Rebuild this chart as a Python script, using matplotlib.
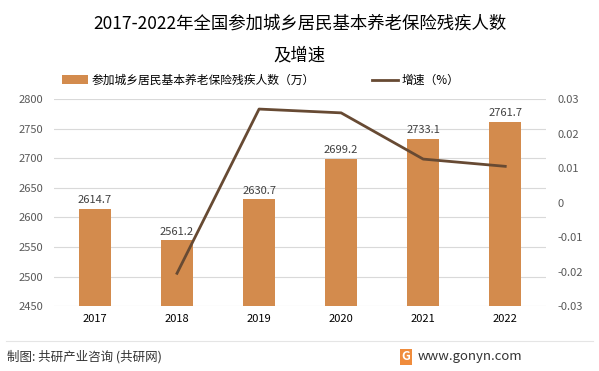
import matplotlib.pyplot as plt
import numpy as np

plt.rcParams['font.family'] = ['Noto Sans CJK SC', 'DejaVu Sans']

years = ['2017', '2018', '2019', '2020', '2021', '2022']
people = [2614.7, 2561.2, 2630.7, 2699.2, 2733.1, 2761.7]
growth = [None, -0.0205, 0.0271, 0.0260, 0.0126, 0.0105]

bar_color = '#D38B4D'
line_color = '#674A33'
tick_color = '#595959'

fig = plt.figure(figsize=(5.99, 3.71), dpi=100)
ax = fig.add_axes([0.090, 0.175, 0.822, 0.558])
x = np.arange(len(years))

ax.bar(x, people, width=0.39, color=bar_color, zorder=2, label='参加城乡居民基本养老保险残疾人数（万）')
ax.set_ylim(2450, 2800)
ax.set_yticks(np.arange(2450, 2801, 50))
ax.set_xlim(-0.5, len(years) - 0.5)
ax.set_xticks(x)
ax.set_xticklabels(years, fontsize=8, color='black')
ax.tick_params(axis='y', labelsize=8, labelcolor=tick_color, length=0, pad=8)
ax.tick_params(axis='x', length=0, pad=6)
ax.grid(axis='y', color='#D9D9D9', linewidth=0.8, zorder=0)
for s in ax.spines.values():
    s.set_visible(False)

for xi, v in zip(x, people):
    ax.text(xi, v + 6, '%.1f' % v, ha='center', va='bottom', fontsize=8, color='#404040')

ax2 = ax.twinx()
gx = [xi for xi, g in zip(x, growth) if g is not None]
gy = [g for g in growth if g is not None]
ax2.plot(gx, gy, color=line_color, linewidth=2, zorder=3, label='增速（%）')
ax2.set_ylim(-0.03, 0.03)
ax2.set_yticks([-0.03, -0.02, -0.01, 0, 0.01, 0.02, 0.03])
ax2.set_yticklabels(['-0.03', '-0.02', '-0.01', '0', '0.01', '0.02', '0.03'])
ax2.tick_params(axis='y', labelsize=8, labelcolor=tick_color, length=0, pad=8)
for s in ax2.spines.values():
    s.set_visible(False)

fig.text(0.5, 0.938, '2017-2022年全国参加城乡居民基本养老保险残疾人数', ha='center', va='center', fontsize=12.5)
fig.text(0.5, 0.85, '及增速', ha='center', va='center', fontsize=12.5)

h1, l1 = ax.get_legend_handles_labels()
h2, l2 = ax2.get_legend_handles_labels()
fig.legend(h1 + h2, l1 + l2, loc='center', bbox_to_anchor=(0.435, 0.783), ncol=2,
           frameon=False, fontsize=8.5, handlelength=2.2, handleheight=0.8,
           handletextpad=0.3, columnspacing=4.8)

fig.add_artist(plt.Line2D([0.01, 0.99], [0.082, 0.082], color='#E5E5E5', linewidth=0.8))
fig.text(0.012, 0.038, '制图: 共研产业咨询 (共研网)', ha='left', va='center', fontsize=9, color='#333333')
fig.text(0.678, 0.038, 'G', ha='center', va='center', fontsize=9, color='white', fontweight='bold',
         bbox=dict(boxstyle='square,pad=0.15', facecolor='#F08C3C', edgecolor='none'))
fig.text(0.698, 0.038, 'www.gonyn.com', ha='left', va='center', fontsize=9.5, color='#333333')

fig.savefig('out.png', dpi=100)
